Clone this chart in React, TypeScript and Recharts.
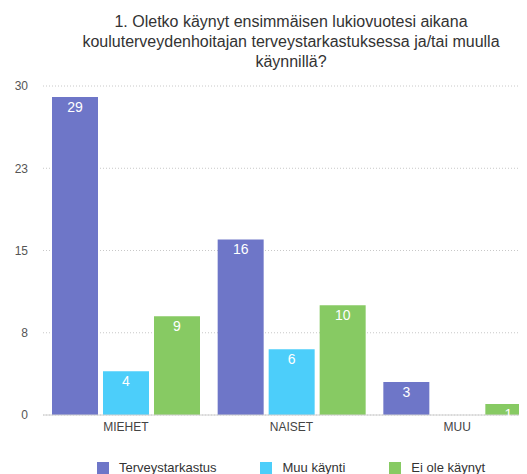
import React from "react";
import { BarChart, Bar, XAxis, YAxis, CartesianGrid, LabelList } from "recharts";

const categories = ["MIEHET", "NAISET", "MUU"];
const terveystarkastus = [29, 16, 3];
const muuKaynti = [4, 6, 0];
const eiOleKaynyt = [9, 10, 1];
const yTicks = [0, 7.5, 15, 22.5, 30];

const titleLines = [
  "1. Oletko käynyt ensimmäisen lukiovuotesi aikana",
  "kouluterveydenhoitajan terveystarkastuksessa ja/tai muulla",
  "käynnillä?",
];

const SERIES = [
  { key: "terveystarkastus", name: "Terveystarkastus", color: "#6e76c8" },
  { key: "muuKaynti", name: "Muu käynti", color: "#4ccefa" },
  { key: "eiOleKaynyt", name: "Ei ole käynyt", color: "#87ca63" },
];

const FONT = "'Liberation Sans', Arial, Helvetica, sans-serif";

const data = categories.map((name, i) => ({
  name,
  terveystarkastus: terveystarkastus[i],
  muuKaynti: muuKaynti[i],
  eiOleKaynyt: eiOleKaynyt[i],
}));

const App: React.FC = () => {
  return (
    <div style={{ position: "relative", width: 519, height: 466, overflow: "hidden", fontFamily: FONT }}>
      <div
        style={{
          position: "absolute",
          left: 0,
          top: 4,
          width: 566,
          textAlign: "center",
          fontSize: 16,
          lineHeight: "20px",
          color: "#333",
        }}
      >
        {titleLines.map((l) => (
          <div key={l}>{l}</div>
        ))}
      </div>
      <div style={{ position: "absolute", left: 0, top: 0 }}>
        <BarChart
          width={540}
          height={466}
          data={data}
          margin={{ top: 78, right: 8, left: 0, bottom: 29 }}
          barSize={46}
          barGap={5}
        >
          <CartesianGrid vertical={false} stroke="#c8c8c8" strokeDasharray="1 2" />
          <XAxis
            dataKey="name"
            height={30}
            tickSize={0}
            tickMargin={7}
            axisLine={{ stroke: "#d0d0d0" }}
            tick={{ fill: "#444", fontSize: 12, fontFamily: FONT }}
          />
          <YAxis
            width={35}
            domain={[0, 30]}
            ticks={yTicks}
            tickFormatter={(v: number) => String(Math.round(v))}
            axisLine={false}
            tickLine={false}
            tickSize={0}
            tickMargin={15}
            tick={{ fill: "#555", fontSize: 12, fontFamily: FONT }}
          />
          {SERIES.map((s) => (
            <Bar key={s.key} dataKey={s.key} name={s.name} fill={s.color} isAnimationActive={false}>
              <LabelList
                dataKey={s.key}
                position="insideTop"
                offset={5}
                fill="#fff"
                fontSize={14}
                fontFamily={FONT}
              />
            </Bar>
          ))}
        </BarChart>
      </div>
      <div
        style={{
          position: "absolute",
          left: 0,
          top: 453,
          width: 566,
          display: "flex",
          justifyContent: "center",
          gap: 44,
          fontSize: 13,
          lineHeight: "14px",
          color: "#333",
        }}
      >
        {SERIES.map((s) => (
          <div key={s.key} style={{ display: "flex", alignItems: "center" }}>
            <span style={{ display: "inline-block", width: 12, height: 12, background: s.color, marginRight: 10 }} />
            <span>{s.name}</span>
          </div>
        ))}
      </div>
    </div>
  );
};

export default App;
